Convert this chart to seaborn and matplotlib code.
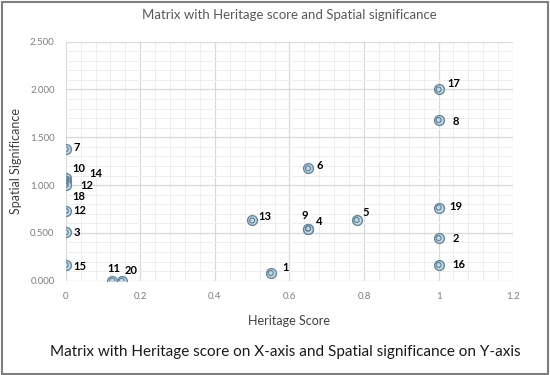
import numpy as np
import pandas as pd
import matplotlib
matplotlib.use("Agg")
import matplotlib.pyplot as plt
import seaborn as sns
from matplotlib.ticker import MultipleLocator, FuncFormatter
from matplotlib.patches import Rectangle

# Data
labels = ["7", "10", "14", "12", "18", "12", "3", "15", "11", "20",
          "13", "1", "6", "17", "8", "9", "4", "5", "19", "2", "16"]
heritage = [0.0, 0.0, 0.0, 0.0, 0.0, 0.0, 0.0, 0.0, 0.125, 0.15,
            0.50, 0.55, 0.65, 1.0, 1.0, 0.65, 0.65, 0.78, 1.0, 1.0, 1.0]
spatial = [1.375, 1.07, 1.04, 1.02, 1.0, 0.73, 0.505, 0.165, 0.0, 0.0,
           0.63, 0.08, 1.175, 2.0, 1.68, 0.545, 0.545, 0.635, 0.765, 0.445, 0.165]

# label offsets in pixels (dx, dy)
offsets = [(8, 2), (7, 10), (24, 8), (15, -2), (7, -11), (8, 0), (8, 0), (8, -2),
           (-5, 12), (3, 10), (6, 4), (12, 6), (8, 3), (9, 6), (14, -1),
           (-7, 13), (8, 7), (6, 7), (11, 1), (14, 0), (14, 0)]

df = pd.DataFrame({"label": labels, "Heritage Score": heritage, "Spatial Significance": spatial})

sns.set_style("white")
plt.rcParams["font.family"] = ["Lato", "DejaVu Sans"]

fig = plt.figure(figsize=(5.5, 3.75), dpi=100)
ax = fig.add_axes([0.1195, 0.2515, 0.8135, 0.6375])

# bullseye-like markers: outer ring plus inner ring
sns.scatterplot(data=df, x="Heritage Score", y="Spatial Significance", ax=ax,
                s=50, color="#c6d8e4", edgecolor="#66879b", linewidth=1.0, zorder=3)
sns.scatterplot(data=df, x="Heritage Score", y="Spatial Significance", ax=ax,
                s=13, facecolor="none", edgecolor="#66879b", linewidth=0.9, zorder=4)

for lab, x, y, (dx, dy) in zip(labels, heritage, spatial, offsets):
    ax.annotate(lab, (x, y), xytext=(dx, dy), textcoords="offset pixels",
                ha="left", va="center", fontsize=8, fontweight="bold", color="black", zorder=5)

ax.set_xlim(0, 1.2)
ax.set_ylim(0, 2.5)
ax.xaxis.set_major_locator(MultipleLocator(0.2))
ax.xaxis.set_minor_locator(MultipleLocator(0.04))
ax.yaxis.set_major_locator(MultipleLocator(0.5))
ax.yaxis.set_minor_locator(MultipleLocator(0.1))
ax.xaxis.set_major_formatter(FuncFormatter(lambda v, p: f"{v:g}"))
ax.yaxis.set_major_formatter(FuncFormatter(lambda v, p: f"{v:.3f}"))
ax.grid(which="major", color="#d9d9d9", linewidth=0.9)
ax.grid(which="minor", color="#eeeeee", linewidth=0.7)
ax.set_axisbelow(True)
for s in ax.spines.values():
    s.set_visible(False)
ax.tick_params(which="both", length=0, labelsize=7, labelcolor="#7f7f7f", pad=8)

ax.set_xlabel("Heritage Score", fontsize=9, color="#404040", labelpad=10)
ax.set_ylabel("Spatial Significance", fontsize=9, color="#404040", labelpad=6)
ax.set_title("Matrix with Heritage score and Spatial significance",
             fontsize=9.5, color="#595959", pad=16)

fig.text(0.518, 0.062, "Matrix with Heritage score on X-axis and Spatial significance on Y-axis",
         ha="center", va="center", fontsize=11, color="#1a1a1a")

fig.patches.append(Rectangle((0.003, 0.004), 0.994, 0.992, transform=fig.transFigure,
                             fill=False, edgecolor="#7f7f7f", linewidth=1.5))

fig.savefig("out.png", dpi=100)
